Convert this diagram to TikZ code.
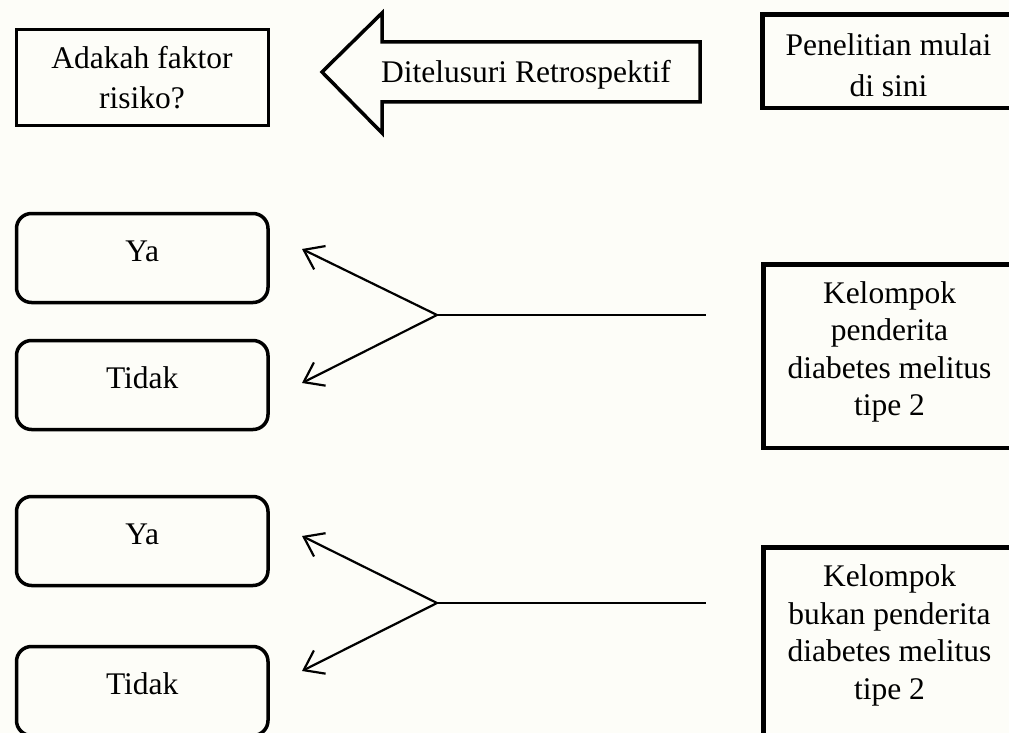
\documentclass[tikz,border=0pt]{standalone}
\usepackage{fontspec}
\setmainfont{Liberation Serif}
\usetikzlibrary{arrows.meta}
\definecolor{bg}{RGB}{253,253,248}
\begin{document}
\begin{tikzpicture}[x=1pt,y=-1pt,
  every node/.style={font=\fontsize{31.5pt}{40pt}\selectfont, align=center},
  sqbox/.style={draw, line width=3pt, minimum width=252pt, minimum height=96pt, inner sep=0pt, anchor=north west},
  rbox/.style={draw, line width=3.5pt, rounded corners=15pt, minimum width=251.5pt, inner xsep=0pt, inner ysep=0pt, text height=48pt, text depth=41pt, anchor=north west},
  rightbox/.style={draw, line width=4.5pt, minimum width=252pt, inner sep=0pt, anchor=north west, font=\fontsize{31.5pt}{37.5pt}\selectfont},
  conn/.style={line width=2.2pt},
  arr/.style={conn, -{Straight Barb[length=18pt,width=26pt]}},
  bigarrow/.style={draw, line width=3.5pt, line join=miter}
]
\fill[bg] (0,0) rectangle (1009,733);
\useasboundingbox (0,0) rectangle (1009,733);

% top row
\node[sqbox] (risk) at (14.5,28.5) {Adakah faktor\\risiko?};
\node[rightbox, minimum height=93.5pt, font=\fontsize{31.5pt}{40.5pt}\selectfont, text height=70pt] (start) at (760.25,12.25) {Penelitian mulai\\di sini};
\coordinate (tip) at (322,72);
\draw[bigarrow] (tip) -- (382,13) -- (382,42) -- (700,42) -- (700,102) -- (382,102) -- (382,133) -- cycle;
\node (retro) at (526,75) {Ditelusuri Retrospektif};

% group 1
\node[rbox] (ya1) at (14.75,211.75) {Ya};
\node[rbox] (tidak1) at (14.75,338.75) {Tidak};
\node[rightbox, minimum height=183.5pt, text depth=15pt] (kasus) at (761.25,262.25) {Kelompok\\penderita\\diabetes melitus\\tipe 2};
\coordinate (b1) at (437,315);
\coordinate (e1) at (706,315);
\coordinate (t1a) at (302,249);
\coordinate (t1b) at (302,383);
\draw[conn] (b1) -- (e1);
\draw[arr] (b1) -- (t1a);
\draw[arr] (b1) -- (t1b);

% group 2
\node[rbox] (ya2) at (14.75,494.75) {Ya};
\node[rbox] (tidak2) at (14.75,644.75) {Tidak};
\node[rightbox, minimum height=197.5pt, text depth=28pt] (kontrol) at (761.25,545.25) {Kelompok\\bukan penderita\\diabetes melitus\\tipe 2};
\coordinate (b2) at (437,603);
\coordinate (e2) at (706,603);
\coordinate (t2a) at (302,536);
\coordinate (t2b) at (302,671);
\draw[conn] (b2) -- (e2);
\draw[arr] (b2) -- (t2a);
\draw[arr] (b2) -- (t2b);
\end{tikzpicture}
\end{document}
